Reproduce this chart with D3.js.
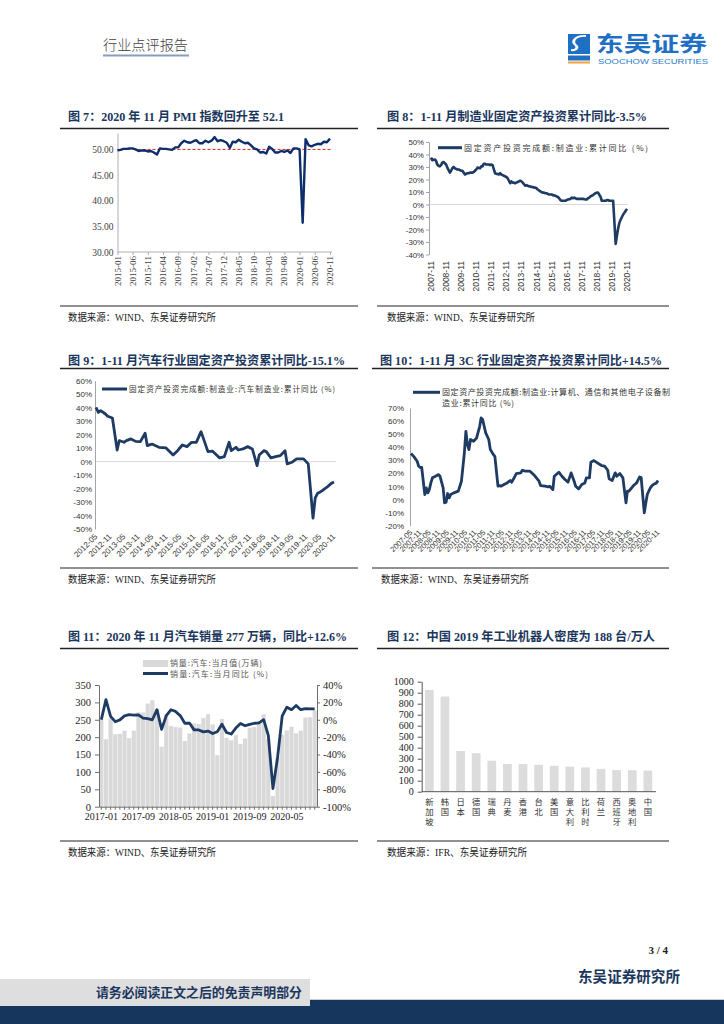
<!DOCTYPE html>
<html><head><meta charset="utf-8">
<script src="https://cdn.jsdelivr.net/npm/d3@7"></script>
<style>body{margin:0;background:#fff;}svg{display:block;}</style>
</head><body>
<svg id="page" width="724" height="1024"></svg>
<script>
// ---------------- DATA ----------------
// Fig 7: PMI monthly from 2015-01
const pmiStart = "2015-01";
const pmiValues = [49.8,49.9,50.1,50.1,50.2,50.2,50.0,49.7,49.8,49.8,49.6,49.7,
  49.4,49.0,50.2,50.1,50.1,50.0,49.9,50.4,50.4,51.2,51.7,51.4,
  51.3,51.6,51.8,51.2,51.2,51.7,51.4,51.7,52.4,51.6,51.8,51.6,
  51.3,50.3,51.5,51.4,51.9,51.5,51.2,51.3,50.8,50.2,50.0,49.4,
  49.5,49.2,50.5,50.1,49.4,49.4,49.7,49.5,49.8,49.3,50.2,50.2,
  50.0,35.7,52.0,50.8,50.6,50.9,51.1,51.0,51.5,51.4,52.1];
const pmiXTicks = ["2015-01","2015-06","2015-11","2016-04","2016-09","2017-02","2017-07","2017-12",
  "2018-05","2018-10","2019-03","2019-08","2020-01","2020-06","2020-11"];
const pmiYTicks = [30,35,40,45,50];

// Fig 8: manufacturing FAI cumulative YoY (%)
const mfgFai = [["2007-11",37.5],["2007-12",35.5],
 ["2008-02",36.0],["2008-03",35.0],["2008-04",32.0],["2008-05",31.0],["2008-06",30.5],["2008-07",31.5],["2008-08",33.5],["2008-09",34.0],["2008-10",33.0],["2008-11",32.0],["2008-12",29.5],
 ["2009-02",25.5],["2009-03",27.0],["2009-04",29.0],["2009-05",30.0],["2009-06",29.0],["2009-07",28.5],["2009-08",28.0],["2009-09",28.0],["2009-10",27.5],["2009-11",27.0],["2009-12",27.0],
 ["2010-02",24.0],["2010-03",24.5],["2010-04",25.0],["2010-05",25.0],["2010-06",25.5],["2010-07",25.5],["2010-08",25.5],["2010-09",26.0],["2010-10",27.0],["2010-11",28.0],["2010-12",29.5],
 ["2011-02",29.0],["2011-03",30.5],["2011-04",30.5],["2011-05",32.5],["2011-06",32.5],["2011-07",32.0],["2011-08",32.0],["2011-09",32.0],["2011-10",31.5],["2011-11",32.0],["2011-12",31.5],
 ["2012-02",25.0],["2012-03",24.5],["2012-04",24.5],["2012-05",24.0],["2012-06",25.0],["2012-07",24.0],["2012-08",23.5],["2012-09",23.0],["2012-10",22.5],["2012-11",22.0],["2012-12",21.0],
 ["2013-02",17.0],["2013-03",18.5],["2013-04",17.5],["2013-05",17.5],["2013-06",17.0],["2013-07",17.5],["2013-08",18.0],["2013-09",18.5],["2013-10",19.0],["2013-11",18.5],["2013-12",17.5],
 ["2014-02",15.0],["2014-03",15.5],["2014-04",15.0],["2014-05",14.5],["2014-06",14.5],["2014-07",14.0],["2014-08",14.0],["2014-09",13.5],["2014-10",13.5],["2014-11",13.0],["2014-12",12.0],
 ["2015-02",10.5],["2015-03",10.0],["2015-04",9.5],["2015-05",9.5],["2015-06",9.0],["2015-07",9.0],["2015-08",8.5],["2015-09",8.0],["2015-10",8.0],["2015-11",8.0],["2015-12",7.5],
 ["2016-02",7.0],["2016-03",6.5],["2016-04",6.0],["2016-05",5.0],["2016-06",3.5],["2016-07",3.0],["2016-08",3.0],["2016-09",3.0],["2016-10",3.0],["2016-11",3.5],["2016-12",4.0],
 ["2017-02",4.5],["2017-03",5.5],["2017-04",5.0],["2017-05",5.5],["2017-06",5.0],["2017-07",4.5],["2017-08",4.5],["2017-09",4.5],["2017-10",4.5],["2017-11",4.5],["2017-12",4.5],
 ["2018-02",4.0],["2018-03",4.0],["2018-04",5.0],["2018-05",5.5],["2018-06",6.5],["2018-07",7.0],["2018-08",7.5],["2018-09",8.5],["2018-10",9.0],["2018-11",9.5],["2018-12",9.5],
 ["2019-02",6.0],["2019-03",3.0],["2019-04",3.0],["2019-05",3.0],["2019-06",3.0],["2019-07",3.5],["2019-08",3.5],["2019-09",3.0],["2019-10",3.0],["2019-11",3.0],["2019-12",3.0],
 ["2020-02",-31.5],["2020-03",-25.0],["2020-04",-19.0],["2020-05",-14.5],["2020-06",-12.0],["2020-07",-10.0],["2020-08",-8.0],["2020-09",-6.5],["2020-10",-5.0],["2020-11",-3.5]];
const mfgXTicks = ["2007-11","2008-11","2009-11","2010-11","2011-11","2012-11","2013-11","2014-11","2015-11","2016-11","2017-11","2018-11","2019-11","2020-11"];
const mfgYTicks = [-40,-30,-20,-10,0,10,20,30,40,50];

// Fig 9: auto manufacturing FAI cumulative YoY (%)
const autoFai = [["2012-05",40.2],["2012-06",36.5],["2012-07",37.8],["2012-09",35.3],["2012-10",33.6],["2012-12",32.3],
 ["2013-02",8.6],["2013-03",15.6],["2013-05",14.3],["2013-06",15.6],["2013-08",16.8],["2013-10",15.0],["2013-12",14.8],
 ["2014-02",21.0],["2014-03",11.9],["2014-05",13.0],["2014-08",10.6],["2014-11",10.1],
 ["2015-02",4.9],["2015-04",8.1],["2015-06",12.3],["2015-08",11.1],["2015-10",14.3],["2015-12",14.3],
 ["2016-02",22.2],["2016-05",7.4],["2016-07",7.7],["2016-10",2.7],["2016-12",3.7],
 ["2017-02",14.3],["2017-03",8.1],["2017-05",10.6],["2017-06",8.6],["2017-08",9.4],["2017-10",11.1],["2017-12",9.4],
 ["2018-02",-3.0],["2018-03",4.9],["2018-05",8.1],["2018-06",7.4],["2018-08",2.7],["2018-10",3.7],["2018-12",4.4],
 ["2019-02",8.1],["2019-03",-1.7],["2019-05",-0.5],["2019-07",2.0],["2019-10",2.0],["2019-12",-1.7],
 ["2020-02",-42.0],["2020-03",-27.0],["2020-04",-23.5],["2020-05",-22.7],["2020-06",-21.5],["2020-07",-20.2],["2020-08",-19.0],["2020-09",-17.5],["2020-10",-16.0],["2020-11",-15.1]];
const autoXTicks = ["2012-05","2012-11","2013-05","2013-11","2014-05","2014-11","2015-05","2015-11","2016-05","2016-11",
 "2017-05","2017-11","2018-05","2018-11","2019-05","2019-11","2020-05","2020-11"];
const autoYTicks = [-50,-40,-30,-20,-10,0,10,20,30,40,50,60];

// Fig 10: 3C manufacturing FAI cumulative YoY (%)
const ccFai = [["2007-05",35.2],["2007-07",32.6],["2007-09",29.3],["2007-10",25.5],["2007-11",24.5],["2007-12",24.5],
 ["2008-02",3.8],["2008-03",8.9],["2008-04",5.1],["2008-05",7.6],["2008-06",12.7],["2008-07",16.6],["2008-09",17.8],["2008-11",19.1],["2008-12",17.8],
 ["2009-02",8.9],["2009-03",-2.5],["2009-04",-2.0],["2009-05",4.6],["2009-06",1.3],["2009-07",3.8],["2009-09",5.1],["2009-12",6.4],
 ["2010-02",14.0],["2010-03",24.2],["2010-04",35.7],["2010-05",52.2],["2010-06",42.0],["2010-07",38.2],["2010-08",45.9],["2010-10",44.6],["2010-12",47.1],
 ["2011-02",56.0],["2011-03",62.4],["2011-04",61.2],["2011-05",56.0],["2011-06",51.0],["2011-08",45.9],["2011-09",38.2],["2011-11",34.4],["2011-12",33.0],
 ["2012-02",10.2],["2012-03",10.7],["2012-04",10.2],["2012-06",11.5],["2012-08",12.7],["2012-10",14.5],["2012-11",13.3],["2012-12",15.3],
 ["2013-02",19.9],["2013-05",20.4],["2013-06",22.4],["2013-08",21.7],["2013-11",21.7],
 ["2014-02",18.3],["2014-05",14.0],["2014-06",10.7],["2014-09",10.2],["2014-11",9.7],["2014-12",10.2],
 ["2015-02",7.6],["2015-03",17.8],["2015-06",20.9],["2015-08",17.8],["2015-10",15.3],["2015-12",13.3],
 ["2016-02",20.4],["2016-04",14.0],["2016-05",10.2],["2016-07",8.2],["2016-09",11.5],["2016-11",12.7],["2016-12",16.6],
 ["2017-02",16.6],["2017-03",28.5],["2017-05",29.8],["2017-08",27.5],["2017-10",26.0],["2017-12",25.5],
 ["2018-02",22.4],["2018-03",15.8],["2018-05",14.5],["2018-07",20.4],["2018-08",17.8],["2018-10",19.9],["2018-12",16.6],
 ["2019-02",-2.5],["2019-03",6.4],["2019-04",6.4],["2019-07",10.7],["2019-09",12.7],["2019-11",17.3],["2019-12",16.8],
 ["2020-02",-10.2],["2020-03",-3.0],["2020-04",3.8],["2020-05",6.5],["2020-06",8.9],["2020-07",10.5],["2020-08",11.5],["2020-09",12.2],["2020-10",12.6],["2020-11",14.5]];
const ccXTicks = ["2007-05","2007-11","2008-05","2008-11","2009-05","2009-11","2010-05","2010-11","2011-05","2011-11",
 "2012-05","2012-11","2013-05","2013-11","2014-05","2014-11","2015-05","2015-11","2016-05","2016-11",
 "2017-05","2017-11","2018-05","2018-11","2019-05","2019-11","2020-05","2020-11"];
const ccYTicks = [-20,-10,0,10,20,30,40,50,60,70];

// Fig 11: auto sales (10k units) and YoY (%), monthly from 2017-01
const salesStart = "2017-01";
const salesVolume = [252.9,193.9,254.4,208.4,209.6,218.6,197.1,218.6,271.3,270.8,296.5,305.9,
  281.0,172.4,265.6,231.9,228.8,227.4,188.9,210.3,239.4,238.0,254.8,266.1,
  236.7,148.2,252.0,198.0,191.3,205.6,180.8,195.8,227.1,229.1,245.4,265.8,
  194.1,31.0,143.0,207.0,219.4,230.0,211.2,218.6,256.5,257.3,276.8];
const salesYoy = [0.2,23.1,4.0,-2.2,-0.1,4.5,5.8,5.3,5.7,2.0,1.3,0.0,
  11.6,-11.1,4.7,11.5,9.6,4.8,-4.0,-3.8,-11.6,-11.7,-13.9,-13.0,
  -15.8,-13.8,-5.2,-14.6,-16.4,-9.6,-4.3,-6.9,-5.2,-4.0,-3.6,0.1,
  -18.0,-79.1,-43.3,4.4,14.5,11.6,16.4,11.6,12.8,12.5,12.6];
const salesXLabels = ["2017-01","2017-09","2018-05","2019-01","2019-09","2020-05"];
const salesLeftTicks = [0,50,100,150,200,250,300,350];
const salesRightTicks = [-100,-80,-60,-40,-20,0,20,40];

// Fig 12: industrial robot density 2019 (units per 10k workers)
const robotCountries = ["新加坡","韩国","日本","德国","瑞典","丹麦","香港","台北","美国","意大利","比利时","荷兰","西班牙","奥地利","中国"];
const robotDensity = [925,865,370,350,282,252,252,244,236,228,220,208,196,195,192];
const robotTicks = [0,100,200,300,400,500,600,700,800,900,1000];

// ---------------- DRAW ----------------
const svg = d3.select("#page");
const SERIF = "'Liberation Serif','Noto Sans CJK SC',serif";
const SANS = "'Liberation Sans','Noto Sans CJK SC',sans-serif";
const CJK = "'Noto Sans CJK SC',sans-serif";
const NAVY = "#1b365d";
const LINEC = "#1d3b63";
const parse = d3.timeParse("%Y-%m");

// header
svg.append("text").attr("x",103).attr("y",50).attr("font-family",CJK).attr("font-weight",300)
  .attr("font-size",14).attr("fill","#404040").attr("textLength",85).attr("lengthAdjust","spacingAndGlyphs").text("行业点评报告");
svg.append("line").attr("x1",103).attr("x2",189).attr("y1",55.5).attr("y2",55.5).attr("stroke","#8a9cbb").attr("stroke-width",2);
const logo = svg.append("g");
logo.append("rect").attr("x",568).attr("y",34).attr("width",22).attr("height",20).attr("fill","#1f6fc2");
logo.append("path").attr("d","M586 37 C578 36,572 41,577 45 C581 48,576 52,571 51 L571 49 C575 50,577 47,574 45 C569 41,575 34,586 35 Z").attr("fill","#fff");
logo.append("rect").attr("x",568).attr("y",55.5).attr("width",22).attr("height",5).attr("fill","#1f6fc2");
logo.append("rect").attr("x",568).attr("y",61.5).attr("width",22).attr("height",2).attr("fill","#f2a23a");
logo.append("text").attr("x",596).attr("y",51).attr("font-family",CJK).attr("font-weight","bold").attr("font-size",21)
  .attr("fill","#1f6fc2").attr("textLength",111).attr("lengthAdjust","spacingAndGlyphs").text("东吴证券");
logo.append("text").attr("x",598).attr("y",64).attr("font-family",SANS).attr("font-size",8)
  .attr("fill","#2a7cc7").attr("textLength",110).attr("lengthAdjust","spacingAndGlyphs").text("SOOCHOW SECURITIES");

// titles & rules & sources
function title(x, y, txt, len) {
  svg.append("text").attr("x",x).attr("y",y).attr("font-family",SERIF).attr("font-weight","bold")
    .attr("font-size",12.5).attr("fill",NAVY).attr("textLength",len).attr("lengthAdjust","spacingAndGlyphs").text(txt);
}
function rule(x1, x2, y, w) {
  svg.append("line").attr("x1",x1).attr("x2",x2).attr("y1",y).attr("y2",y).attr("stroke","#222").attr("stroke-width",w||1.5);
}
function source(x, y, txt, len) {
  const t = svg.append("text").attr("x",x).attr("y",y).attr("font-family",SERIF).attr("font-size",10.5).attr("fill","#222").text(txt);
  if (len) t.attr("textLength",len).attr("lengthAdjust","spacingAndGlyphs");
}
title(68,121,"图 7：2020 年 11 月 PMI 指数回升至 52.1",216);
title(387,121,"图 8：1-11 月制造业固定资产投资累计同比-3.5%",260);
title(68,365,"图 9：1-11 月汽车行业固定资产投资累计同比-15.1%",277);
title(380,365,"图 10：1-11 月 3C 行业固定资产投资累计同比+14.5%",282);
title(68,641,"图 11：2020 年 11 月汽车销量 277 万辆，同比+12.6%",279);
title(387,641,"图 12：中国 2019 年工业机器人密度为 188 台/万人",268);
rule(60,358,128.5); rule(377,669,128.5);
rule(60,358,368.5); rule(372,669,368.5);
rule(60,358,648.5); rule(377,669,648.5);
rule(60,358,306,1); rule(377,669,306,1);
rule(60,358,568,1); rule(372,669,568,1);
rule(60,358,841,1); rule(377,669,841,1);
source(68,321,"数据来源：WIND、东吴证券研究所",148);
source(387,321,"数据来源：WIND、东吴证券研究所",148);
source(68,583,"数据来源：WIND、东吴证券研究所",148);
source(381,583,"数据来源：WIND、东吴证券研究所",148);
source(68,856,"数据来源：WIND、东吴证券研究所",148);
source(387,856,"数据来源：IFR、东吴证券研究所",140);

function styleAxis(g, color, font, size, textColor) {
  g.select(".domain").attr("stroke",color);
  g.selectAll(".tick line").attr("stroke",color);
  g.selectAll(".tick text").attr("font-family",font).attr("font-size",size).attr("fill",textColor);
}
function rotLabels(ticks, x, y0, angle, font, size, color) {
  svg.append("g").selectAll("text").data(ticks).join("text")
    .attr("transform",d=>`translate(${x(parse(d))},${y0}) rotate(${angle})`)
    .attr("text-anchor","end").attr("dy","0.35em")
    .attr("font-family",font).attr("font-size",size).attr("fill",color).text(d=>d);
}

// ---- Fig 7 ----
{
  const x = d3.scaleTime().domain([parse("2015-01"),parse("2020-11")]).range([117.5,330]);
  const y = d3.scaleLinear().domain([30,53.2]).range([252,133]);
  const gy = svg.append("g").attr("transform","translate(117.5,0)")
    .call(d3.axisLeft(y).tickValues(pmiYTicks).tickFormat(d3.format(".2f")).tickSize(0).tickSizeOuter(0).tickPadding(4));
  styleAxis(gy,"#b0b0b0",SERIF,9.5,"#404040");
  const gx = svg.append("g").attr("transform","translate(0,252)")
    .call(d3.axisBottom(x).tickValues(pmiXTicks.map(parse)).tickFormat("").tickSize(3).tickSizeOuter(0));
  gx.select(".domain").attr("d","M117.5,0H332");
  styleAxis(gx,"#b0b0b0",SERIF,9,"#404040");
  rotLabels(pmiXTicks,x,256,-90,SERIF,9,"#404040");
  svg.append("line").attr("x1",117.5).attr("x2",332).attr("y1",y(50)).attr("y2",y(50))
    .attr("stroke","#e0201b").attr("stroke-width",1).attr("stroke-dasharray","3,2");
  const start = parse(pmiStart);
  const pts = pmiValues.map((v,i)=>[d3.timeMonth.offset(start,i),v]);
  svg.append("path").datum(pts).attr("fill","none").attr("stroke","#0d2d6b").attr("stroke-width",2.4)
    .attr("stroke-linejoin","round").attr("d",d3.line().x(d=>x(d[0])).y(d=>y(d[1])));
}

// ---- Fig 8 ----
{
  const x = d3.scaleTime().domain([parse("2007-11"),parse("2020-11")]).range([431,627]);
  const y = d3.scaleLinear().domain([-40,50]).range([254.5,142]);
  svg.append("line").attr("x1",429).attr("x2",628).attr("y1",y(0)).attr("y2",y(0)).attr("stroke","#d9d9d9").attr("stroke-width",1);
  const gy = svg.append("g").attr("transform","translate(429,0)")
    .call(d3.axisLeft(y).tickValues(mfgYTicks).tickFormat(d=>d+"%").tickSize(3).tickSizeOuter(0).tickPadding(2));
  styleAxis(gy,"#a6a6a6",SANS,7.8,"#333");
  rotLabels(mfgXTicks,x,261,-90,SANS,8.5,"#333");
  svg.append("path").datum(mfgFai).attr("fill","none").attr("stroke",LINEC).attr("stroke-width",2.6)
    .attr("stroke-linejoin","round").attr("d",d3.line().x(d=>x(parse(d[0]))).y(d=>y(d[1])));
  svg.append("line").attr("x1",438).attr("x2",462).attr("y1",147.7).attr("y2",147.7).attr("stroke",LINEC).attr("stroke-width",3);
  svg.append("text").attr("x",464).attr("y",150.6).attr("font-family",CJK).attr("font-size",8).attr("fill","#333")
    .attr("textLength",184).attr("lengthAdjust","spacing").text("固定资产投资完成额:制造业:累计同比 (%)");
}

// ---- Fig 9 ----
{
  const x = d3.scaleTime().domain([parse("2012-05"),parse("2020-11")]).range([96,334]);
  const y = d3.scaleLinear().domain([-50,60]).range([529,380.7]);
  svg.append("line").attr("x1",95).attr("x2",336).attr("y1",y(0)).attr("y2",y(0)).attr("stroke","#d9d9d9").attr("stroke-width",1);
  const gy = svg.append("g").attr("transform","translate(95,0)")
    .call(d3.axisLeft(y).tickValues(autoYTicks).tickFormat(d=>d+"%").tickSize(0).tickSizeOuter(0).tickPadding(3));
  styleAxis(gy,"#a6a6a6",SANS,8,"#333");
  rotLabels(autoXTicks,x,535,-45,SANS,8,"#333");
  svg.append("path").datum(autoFai).attr("fill","none").attr("stroke",LINEC).attr("stroke-width",2.8)
    .attr("stroke-linejoin","round").attr("d",d3.line().x(d=>x(parse(d[0]))).y(d=>y(d[1])));
  svg.append("line").attr("x1",102).attr("x2",127).attr("y1",389).attr("y2",389).attr("stroke",LINEC).attr("stroke-width",3);
  svg.append("text").attr("x",129).attr("y",391.8).attr("font-family",CJK).attr("font-size",7.6).attr("fill","#333")
    .attr("textLength",206).attr("lengthAdjust","spacing").text("固定资产投资完成额:制造业:汽车制造业:累计同比 (%)");
}

// ---- Fig 10 ----
{
  const x = d3.scaleTime().domain([parse("2007-05"),parse("2020-11")]).range([411,658]);
  const y = d3.scaleLinear().domain([-20,70]).range([525.7,408]);
  const gy = svg.append("g").attr("transform","translate(410,0)")
    .call(d3.axisLeft(y).tickValues(ccYTicks).tickFormat(d=>d+"%").tickSize(0).tickSizeOuter(0).tickPadding(6));
  styleAxis(gy,"#a6a6a6",SANS,8,"#333");
  rotLabels(ccXTicks,x,531,-45,SANS,7.6,"#333");
  svg.append("path").datum(ccFai).attr("fill","none").attr("stroke",LINEC).attr("stroke-width",2.8)
    .attr("stroke-linejoin","round").attr("d",d3.line().x(d=>x(parse(d[0]))).y(d=>y(d[1])));
  svg.append("line").attr("x1",413).attr("x2",440).attr("y1",392.3).attr("y2",392.3).attr("stroke",LINEC).attr("stroke-width",3);
  svg.append("text").attr("x",442).attr("y",395.2).attr("font-family",CJK).attr("font-size",8).attr("fill","#333")
    .attr("textLength",228).attr("lengthAdjust","spacing").text("固定资产投资完成额:制造业:计算机、通信和其他电子设备制");
  svg.append("text").attr("x",442).attr("y",406.2).attr("font-family",CJK).attr("font-size",8).attr("fill","#333")
    .attr("textLength",72).attr("lengthAdjust","spacing").text("造业:累计同比 (%)");
}

// ---- Fig 11 ----
{
  const start = parse(salesStart);
  const months = salesVolume.map((v,i)=>d3.timeFormat("%Y-%m")(d3.timeMonth.offset(start,i)));
  const x = d3.scaleBand().domain(months).range([99,317]).paddingInner(0.1).paddingOuter(0.05);
  const yL = d3.scaleLinear().domain([0,350]).range([806.7,685]);
  const yR = d3.scaleLinear().domain([-100,40]).range([806.7,685]);
  svg.append("g").selectAll("rect").data(salesVolume).join("rect")
    .attr("x",(d,i)=>x(months[i])).attr("width",x.bandwidth())
    .attr("y",d=>yL(d)).attr("height",d=>yL(0)-yL(d)).attr("fill","#d9d9d9");
  svg.append("path").datum(salesYoy).attr("fill","none").attr("stroke",LINEC).attr("stroke-width",2.8)
    .attr("stroke-linejoin","round")
    .attr("d",d3.line().x((d,i)=>x(months[i])+x.bandwidth()/2).y(d=>yR(d)));
  const gl = svg.append("g").attr("transform","translate(99,0)")
    .call(d3.axisLeft(yL).tickValues(salesLeftTicks).tickSize(4).tickSizeOuter(0).tickPadding(4));
  styleAxis(gl,"#6e6e6e",SERIF,10.5,"#222");
  const gr = svg.append("g").attr("transform","translate(317,0)")
    .call(d3.axisRight(yR).tickValues(salesRightTicks).tickFormat(d=>d+"%").tickSize(3).tickSizeOuter(0).tickPadding(3));
  styleAxis(gr,"#6e6e6e",SERIF,10.5,"#222");
  const gx = svg.append("g").attr("transform","translate(0,806.7)")
    .call(d3.axisBottom(x).tickValues(months).tickFormat(d=>salesXLabels.includes(d)?d:"").tickSize(3).tickSizeOuter(0).tickPadding(3));
  styleAxis(gx,"#6e6e6e",SERIF,10,"#222");
  gx.selectAll(".tick text").filter(d=>!salesXLabels.includes(d)).remove();
  svg.append("rect").attr("x",143).attr("y",660).attr("width",25).attr("height",7).attr("fill","#d9d9d9");
  svg.append("text").attr("x",170).attr("y",666.3).attr("font-family",CJK).attr("font-size",8).attr("fill","#555")
    .attr("textLength",92).attr("lengthAdjust","spacing").text("销量:汽车:当月值(万辆)");
  svg.append("line").attr("x1",143).attr("x2",168).attr("y1",673.5).attr("y2",673.5).attr("stroke",LINEC).attr("stroke-width",3);
  svg.append("text").attr("x",170).attr("y",676.5).attr("font-family",CJK).attr("font-size",8).attr("fill","#555")
    .attr("textLength",98).attr("lengthAdjust","spacing").text("销量:汽车:当月同比 (%)");
}

// ---- Fig 12 ----
{
  const x = d3.scaleBand().domain(robotCountries).range([421.7,655.5]).paddingInner(0.44).paddingOuter(0.21);
  const y = d3.scaleLinear().domain([0,1000]).range([791.7,681.7]);
  svg.append("g").selectAll("rect").data(robotDensity).join("rect")
    .attr("x",(d,i)=>x(robotCountries[i])).attr("width",x.bandwidth())
    .attr("y",d=>y(d)).attr("height",d=>y(0)-y(d)).attr("fill","#dcdcdc");
  const gy = svg.append("g").attr("transform","translate(421.7,0)")
    .call(d3.axisLeft(y).tickValues(robotTicks).tickFormat(d3.format("d")).tickSize(4).tickSizeOuter(0).tickPadding(4));
  styleAxis(gy,"#555",SERIF,10,"#222");
  svg.append("line").attr("x1",421.7).attr("x2",656).attr("y1",791.7).attr("y2",791.7).attr("stroke","#555").attr("stroke-width",1);
  const chars = robotCountries.flatMap(c=>Array.from(c).map((ch,j)=>({c,ch,j})));
  svg.append("g").selectAll("text").data(chars).join("text")
    .attr("x",d=>x(d.c)+x.bandwidth()/2).attr("y",d=>805+d.j*10)
    .attr("font-family",CJK).attr("font-size",8.3).attr("fill","#333").attr("text-anchor","middle")
    .text(d=>d.ch);
}

// footer
svg.append("text").attr("x",668).attr("y",954).attr("text-anchor","end").attr("font-family",SERIF).attr("font-weight","bold")
  .attr("font-size",11).attr("fill","#222").text("3 / 4");
svg.append("text").attr("x",680).attr("y",982).attr("text-anchor","end").attr("font-family",SERIF).attr("font-weight","bold")
  .attr("font-size",14.5).attr("fill",NAVY).attr("textLength",102).attr("lengthAdjust","spacingAndGlyphs").text("东吴证券研究所");
svg.append("rect").attr("x",0).attr("y",1000).attr("width",724).attr("height",24).attr("fill","#17365d");
svg.append("line").attr("x1",310).attr("x2",724).attr("y1",999.5).attr("y2",999.5).attr("stroke","#c8ccd4").attr("stroke-width",1);
svg.append("rect").attr("x",0).attr("y",979).attr("width",310).attr("height",27).attr("fill","#dedede");
svg.append("text").attr("x",302).attr("y",997).attr("text-anchor","end").attr("font-family",SERIF).attr("font-weight","bold")
  .attr("font-size",13).attr("fill",NAVY).attr("textLength",206).attr("lengthAdjust","spacingAndGlyphs").text("请务必阅读正文之后的免责声明部分");
</script>
</body></html>
